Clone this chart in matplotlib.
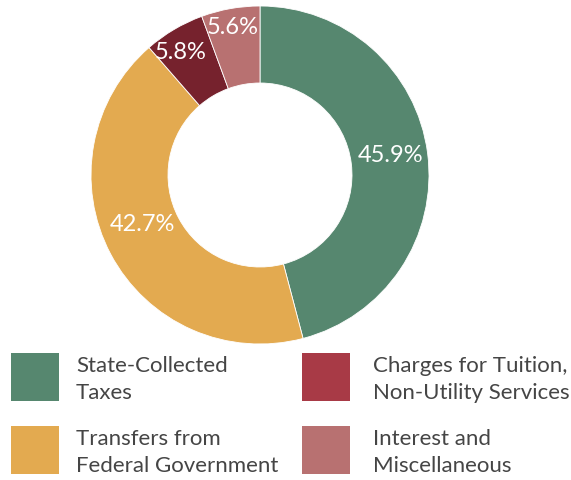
import numpy as np
import matplotlib
matplotlib.use("Agg")
import matplotlib.pyplot as plt
from matplotlib.patches import Rectangle

# revenue share by source (%)
sources = ["State-Collected\nTaxes", "Transfers from\nFederal Government",
           "Charges for Tuition,\nNon-Utility Services", "Interest and\nMiscellaneous"]
shares = [45.9, 42.7, 5.8, 5.6]
slice_colors = ["#56876f", "#e3aa50", "#76222d", "#b87171"]
legend_colors = ["#56876f", "#e3aa50", "#a83a46", "#b87171"]

W, H = 571, 480
fig = plt.figure(figsize=(W / 100, H / 100), dpi=100)
ax = fig.add_axes([0, 0, 1, 1])

cx, cy = 260, H - 175
r_out, r_in = 169, 92
wedges, _ = ax.pie(shares, colors=slice_colors, startangle=90, counterclock=False,
                   radius=r_out, center=(cx, cy),
                   wedgeprops=dict(width=r_out - r_in, edgecolor="white", linewidth=0.6))

# label placement: fraction of outer radius and small angle nudge per slice
lab_r = [0.78, 0.755, 0.865, 0.89]
lab_da = [1.0, -5.0, 2.2, 0.4]
for w, s, rf, da in zip(wedges, shares, lab_r, lab_da):
    ang = np.deg2rad((w.theta1 + w.theta2) / 2 + da)
    ax.text(cx + rf * r_out * np.cos(ang), cy + rf * r_out * np.sin(ang), f"{s}%",
            ha="center", va="center", color="white", fontsize=17, family="Lato")

# legend: 2x2 grid of squares + two-line labels
sq = 48
cols_x = [11, 302]
text_x = [76, 373]
rows_top = [353, 426]
order = [(0, 0), (1, 0), (0, 1), (1, 1)]  # (row, col) for each source
for (row, col), name, c in zip(order, sources, legend_colors):
    x0, top = cols_x[col], rows_top[row]
    ax.add_patch(Rectangle((x0, H - top - sq), sq, sq, color=c, lw=0))
    line1, line2 = name.split("\n")
    ax.text(text_x[col], H - (top + 19), line1, ha="left", va="baseline",
            fontsize=16, color="#454545", family="Lato")
    ax.text(text_x[col], H - (top + 46), line2, ha="left", va="baseline",
            fontsize=16, color="#454545", family="Lato")

ax.set_xlim(0, W)
ax.set_ylim(0, H)
ax.set_aspect("equal")
ax.axis("off")

fig.savefig("out.png", dpi=100)
